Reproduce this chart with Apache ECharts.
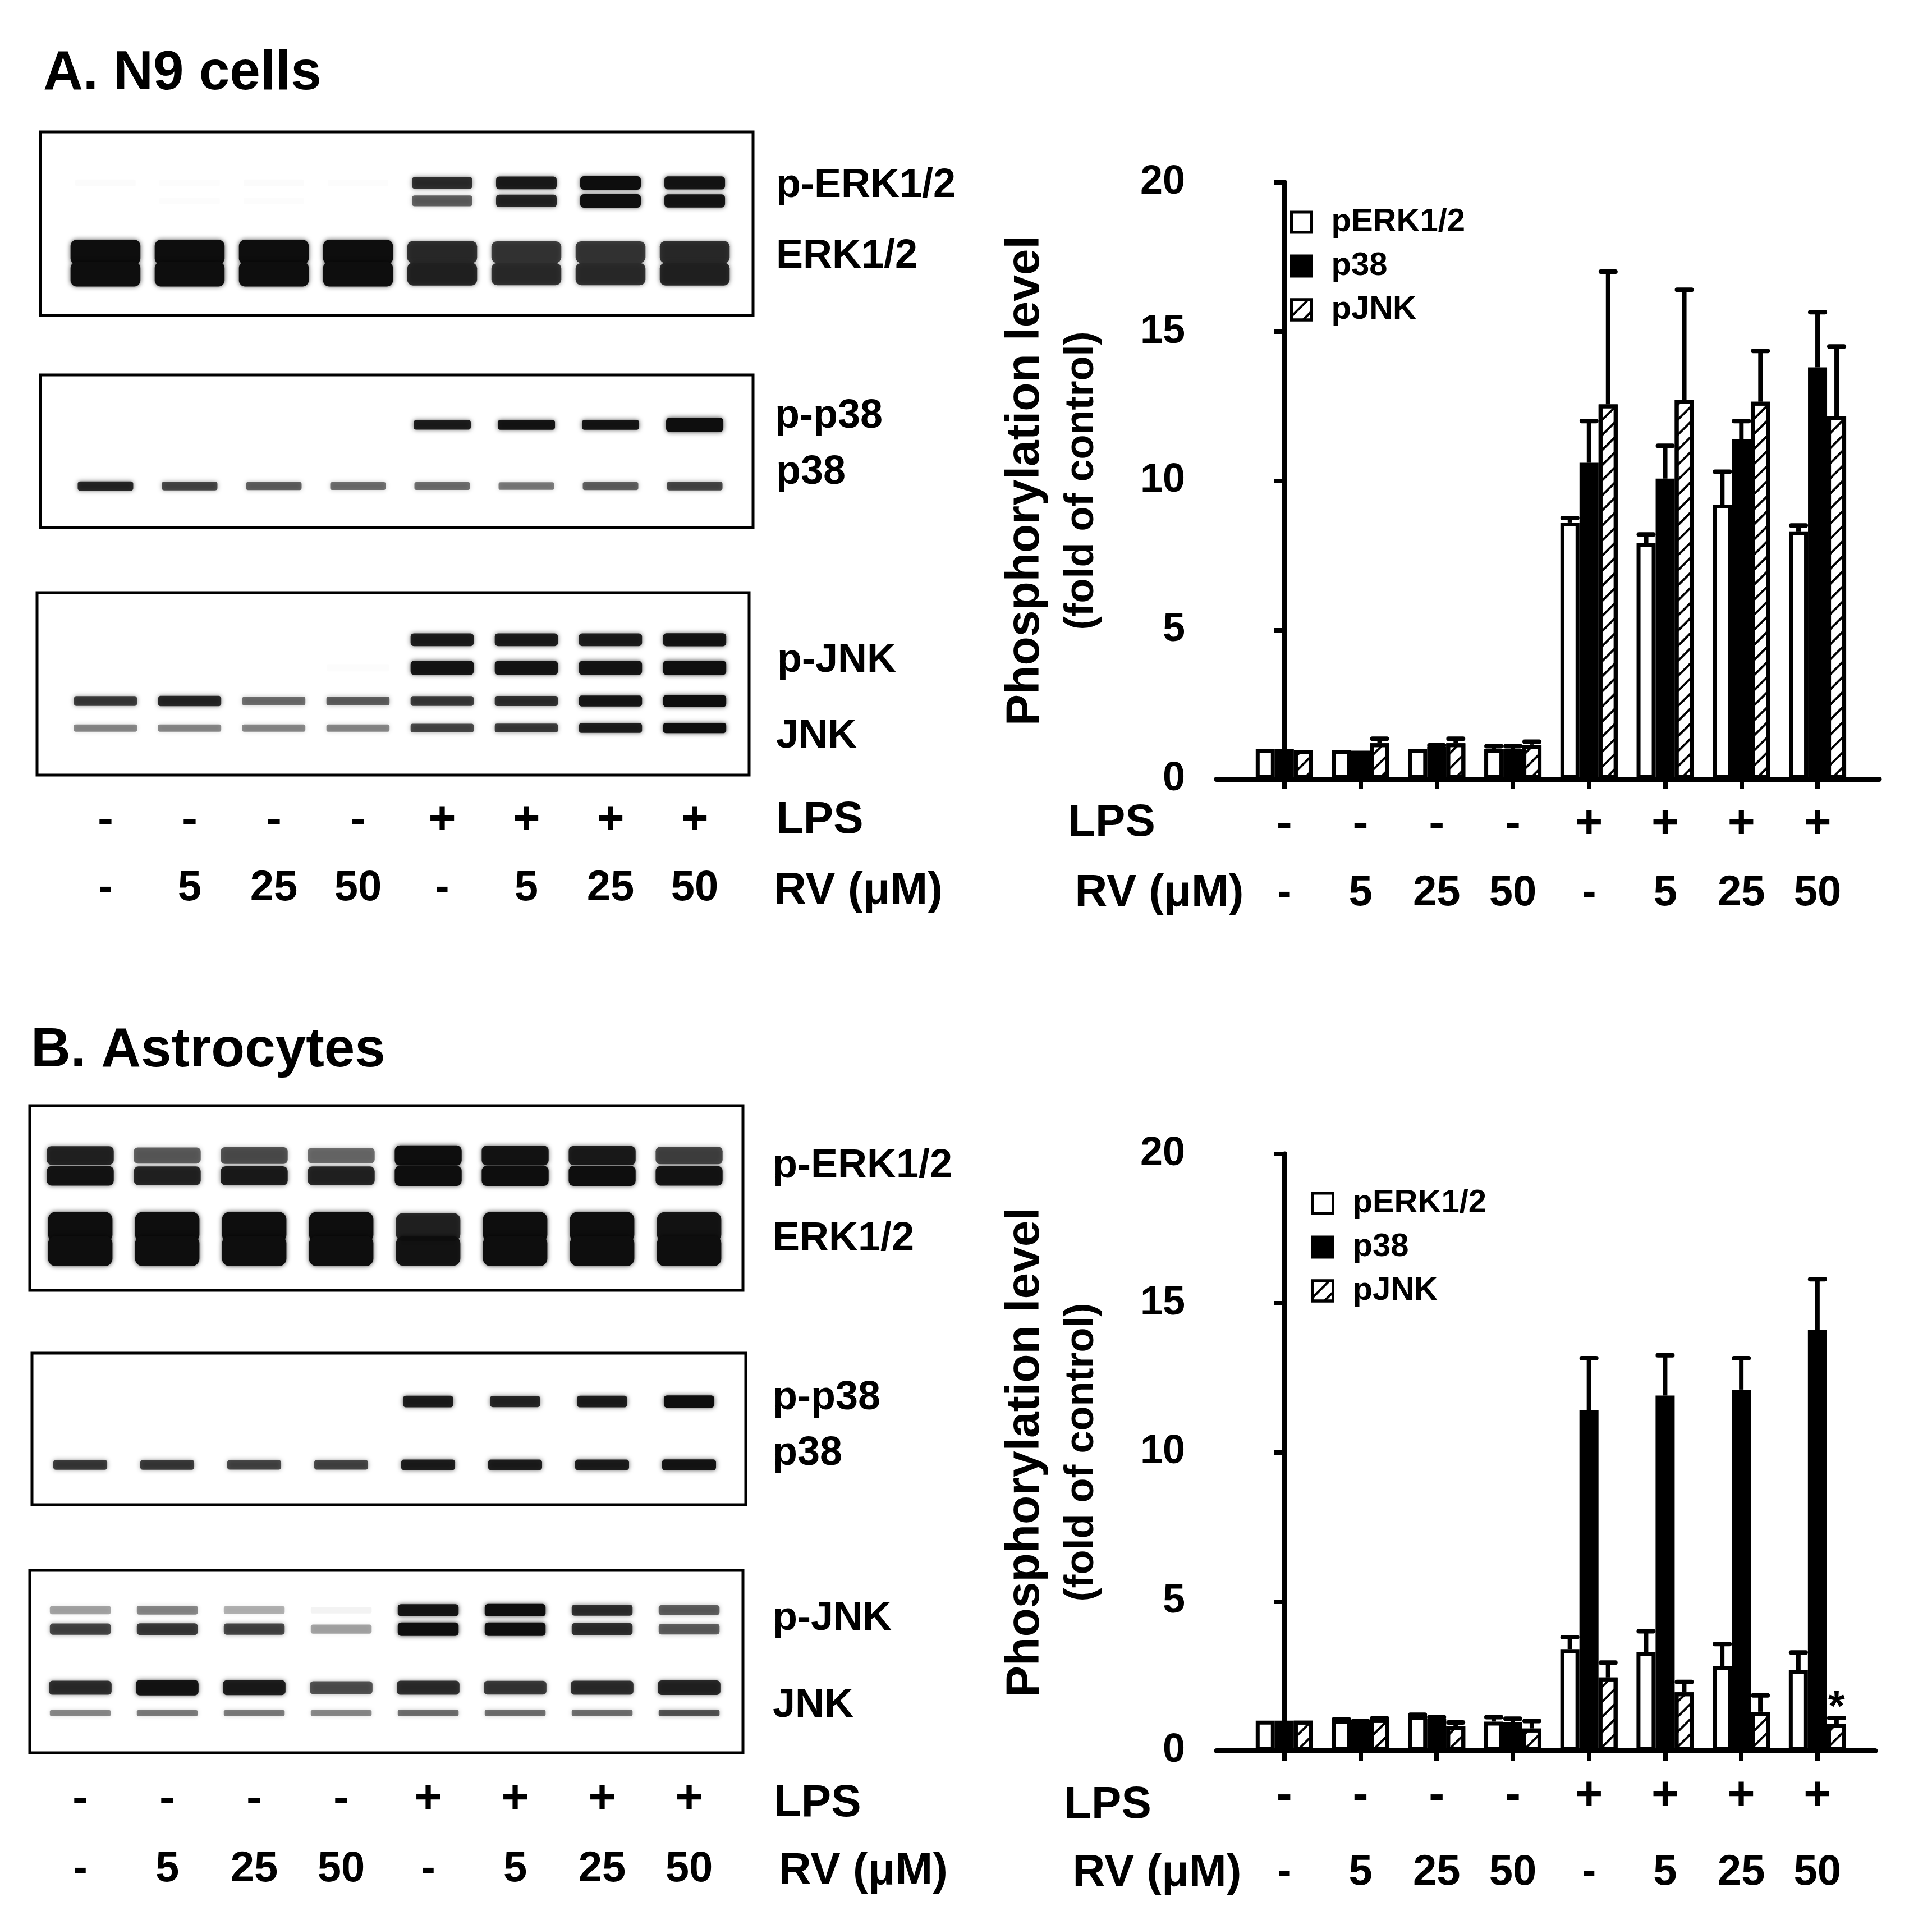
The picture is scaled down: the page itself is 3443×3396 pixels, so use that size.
<!DOCTYPE html>
<html lang="en">
<head>
    <meta charset="UTF-8">
    <title>MAPK phosphorylation</title>
    <script src="https://cdn.jsdelivr.net/npm/echarts@6/dist/echarts.min.js"></script>
    <style>
        html, body { margin: 0; padding: 0; background: #fff; }
        #main { width: 3443px; height: 3396px; }
    </style>
</head>
<body>
<div id="main"></div>
<script>
    // lane / group labels
    var LPS = ['-', '-', '-', '-', '+', '+', '+', '+'];
    var RV = ['-', '5', '25', '50', '-', '5', '25', '50'];
    var SERIES_NAMES = ['pERK1/2', 'p38', 'pJNK'];

    // A. N9 cells - fold of control (mean, upper error)
    var N9_PERK = [1.0, 0.97, 1.0, 1.0, 8.6, 7.9, 9.2, 8.3];
    var N9_P38 = [1.0, 0.95, 1.08, 1.0, 10.6, 10.07, 11.4, 13.8];
    var N9_PJNK = [0.97, 1.2, 1.2, 1.15, 12.56, 12.7, 12.65, 12.16];
    var N9_PERK_ERR = [0, 0, 0, 0.1, 0.15, 0.3, 1.1, 0.2];
    var N9_P38_ERR = [0, 0, 0.05, 0.1, 1.4, 1.1, 0.6, 1.85];
    var N9_PJNK_ERR = [0, 0.15, 0.15, 0.1, 4.45, 3.7, 1.7, 2.34];

    // B. Astrocytes
    var AS_PERK = [1.0, 1.02, 1.15, 0.97, 3.4, 3.3, 2.82, 2.69];
    var AS_P38 = [1.0, 0.97, 1.07, 0.95, 11.4, 11.9, 12.1, 14.1];
    var AS_PJNK = [1.0, 1.06, 0.82, 0.74, 2.45, 1.95, 1.3, 0.89];
    var AS_PERK_ERR = [0, 0.03, 0.05, 0.15, 0.4, 0.7, 0.75, 0.6];
    var AS_P38_ERR = [0, 0.02, 0.05, 0.12, 1.75, 1.35, 1.05, 1.7];
    var AS_PJNK_ERR = [0, 0.02, 0.12, 0.25, 0.5, 0.35, 0.55, 0.2];
    var AS_SIGNIF = [7]; // '*' over pJNK

    // blot band intensities (0 = none, 1 = saturated), one array per band row
    var N9_ERK_BLOT = [
        [0.015, 0.01, 0.015, 0.01, 0.8, 0.9, 1.0, 0.95],  // p-ERK1
        [0, 0.01, 0.01, 0, 0.6, 0.85, 1.0, 0.95],         // p-ERK2
        [1, 1, 1, 1, 0.8, 0.75, 0.75, 0.8],               // ERK1
        [1, 1, 1, 1, 0.85, 0.8, 0.8, 0.85]                // ERK2
    ];
    var N9_P38_BLOT = [
        [0, 0, 0, 0, 0.9, 0.95, 0.95, 1.9],
        [0.85, 0.7, 0.6, 0.55, 0.55, 0.5, 0.6, 0.7]
    ];
    var N9_JNK_BLOT = [
        [0, 0, 0, 0, 0.9, 0.9, 0.9, 0.95],
        [0, 0, 0, 0.01, 0.95, 0.95, 0.95, 1.0],
        [0.75, 0.85, 0.55, 0.6, 0.75, 0.8, 0.95, 1.1],
        [0.45, 0.45, 0.45, 0.45, 0.7, 0.75, 0.9, 1.0]
    ];
    var AS_ERK_BLOT = [
        [0.85, 0.6, 0.65, 0.55, 1.0, 0.95, 0.9, 0.7],
        [0.95, 0.85, 0.9, 0.85, 1.0, 1.0, 1.0, 0.95],
        [1, 1, 1, 1, 0.85, 1, 1, 0.95],
        [1, 1, 1, 1, 0.95, 1, 1, 1]
    ];
    var AS_P38_BLOT = [
        [0, 0, 0, 0, 0.9, 0.85, 0.9, 1.0],
        [0.75, 0.75, 0.7, 0.7, 0.9, 0.9, 0.9, 0.95]
    ];
    var AS_JNK_BLOT = [
        [0.35, 0.45, 0.3, 0.05, 0.95, 1.0, 0.8, 0.6],
        [0.7, 0.75, 0.7, 0.35, 1.0, 1.0, 0.8, 0.6],
        [0.8, 0.95, 0.9, 0.65, 0.8, 0.75, 0.8, 0.85],
        [0.45, 0.5, 0.5, 0.45, 0.55, 0.55, 0.55, 0.65]
    ];

    var FONT = '"Liberation Sans", Arial, Helvetica, sans-serif';
    var LANES = [0, 1, 2, 3, 4, 5, 6, 7];
    var BAR_W = 34;

    // band layout per blot: row position (fraction of box height), thickness, width (fraction of lane step)
    var BLOT_LAYOUT = [
        { rows: [0.278, 0.376, 0.655, 0.775], h: [24, 24, 44, 44], w: [0.72, 0.72, 0.83, 0.83] },
        { rows: [0.327, 0.728], h: [18, 18], w: [0.68, 0.66] },
        { rows: [0.258, 0.412, 0.594, 0.742], h: [24, 26, 20, 18], w: [0.75, 0.75, 0.75, 0.75] },
        { rows: [0.27, 0.38, 0.657, 0.787], h: [36, 36, 54, 54], w: [0.77, 0.77, 0.74, 0.74] },
        { rows: [0.319, 0.737], h: [22, 20], w: [0.58, 0.62] },
        { rows: [0.218, 0.322, 0.643, 0.782], h: [22, 24, 28, 14], w: [0.7, 0.7, 0.72, 0.7] }
    ];
    var BLOTS = [N9_ERK_BLOT, N9_P38_BLOT, N9_JNK_BLOT, AS_ERK_BLOT, AS_P38_BLOT, AS_JNK_BLOT];

    var chart = echarts.init(document.getElementById('main'), null, { renderer: 'canvas' });

    function blotData(rows) {
        var out = [];
        rows.forEach(function (row, r) {
            row.forEach(function (v, i) { out.push([i, r, v]); });
        });
        return out;
    }

    function bandRenderer(cfg) {
        return function (params, api) {
            var lane = api.value(0), r = api.value(1), v = api.value(2);
            if (!(v > 0)) return null;
            var c = api.coord([lane, cfg.rows[r]]);
            var step = api.size([1, 0])[0];
            var w = step * cfg.w[r];
            var h = cfg.h[r] * (0.5 + 0.5 * v);
            var a = Math.min(1, v);
            return {
                type: 'rect',
                shape: { x: c[0] - w / 2, y: c[1] - h / 2, width: w, height: h, r: h / 4 },
                style: {
                    fill: 'rgba(14,14,14,' + a + ')',
                    shadowBlur: 9,
                    shadowColor: 'rgba(0,0,0,' + (a * 0.7) + ')'
                }
            };
        };
    }

    function errData(means, errs) {
        var out = [];
        means.forEach(function (list, k) {
            list.forEach(function (m, i) { out.push([i, m, errs[k][i], k]); });
        });
        return out;
    }

    function renderErr(params, api) {
        var x = api.value(0), m = api.value(1), e = api.value(2), k = api.value(3);
        if (!(e > 0)) return null;
        var p0 = api.coord([x, m]);
        var p1 = api.coord([x, m + e]);
        var cx = p0[0] + (k - 1) * BAR_W;
        return {
            type: 'group',
            children: [
                { type: 'line', shape: { x1: cx, y1: p0[1], x2: cx, y2: p1[1] }, style: { stroke: '#000', lineWidth: 8 } },
                { type: 'line', shape: { x1: cx - 13, y1: p1[1], x2: cx + 13, y2: p1[1] }, style: { stroke: '#000', lineWidth: 8, lineCap: 'round' } }
            ]
        };
    }

    var labelFont = { fontFamily: FONT, fontWeight: 'bold', color: '#000' };

    function hiddenX(grid, min, max) {
        return { type: 'value', gridIndex: grid, min: min, max: max, show: false };
    }

    function labelX(grid, min, max, list, margin, size) {
        return {
            type: 'value', gridIndex: grid, position: 'bottom', min: min, max: max,
            axisLine: { show: false }, axisTick: { show: false }, splitLine: { show: false },
            axisLabel: Object.assign({
                customValues: LANES, margin: margin, fontSize: size,
                formatter: function (v) { return list[Math.round(v)]; }
            }, labelFont)
        };
    }

    function barX(grid, min, max) {
        return {
            type: 'value', gridIndex: grid, position: 'bottom', min: min, max: max,
            axisLine: { show: true, lineStyle: { color: '#000', width: 9 } },
            axisTick: { show: true, customValues: LANES, length: 18, lineStyle: { color: '#000', width: 8 } },
            splitLine: { show: false },
            axisLabel: Object.assign({
                customValues: LANES, margin: 40, fontSize: 84,
                formatter: function (v) { return LPS[Math.round(v)]; }
            }, labelFont)
        };
    }

    function barY(grid) {
        return {
            type: 'value', gridIndex: grid, min: 0, max: 20, interval: 5,
            axisLine: { show: true, lineStyle: { color: '#000', width: 9 } },
            axisTick: { show: true, length: 18, lineStyle: { color: '#000', width: 8 } },
            splitLine: { show: false },
            axisLabel: Object.assign({ margin: 56, fontSize: 72 }, labelFont),
            name: '{a|Phosphorylation level}\n{b|(fold of control)}',
            nameLocation: 'middle',
            nameRotate: 90,
            nameGap: 190,
            nameTextStyle: {
                rich: {
                    a: { fontFamily: FONT, fontWeight: 'bold', fontSize: 84, lineHeight: 100, color: '#000' },
                    b: { fontFamily: FONT, fontWeight: 'bold', fontSize: 72, lineHeight: 100, color: '#000' }
                }
            }
        };
    }

    var hatch = {
        symbol: 'rect', symbolSize: 1, color: '#000',
        dashArrayX: [1, 0], dashArrayY: [4, 15], rotation: -Math.PI / 4
    };
    var barStyles = [
        { color: '#fff', borderColor: '#000', borderWidth: 7 },
        { color: '#000', borderColor: '#000', borderWidth: 7 },
        { color: '#fff', borderColor: '#000', borderWidth: 7, decal: hatch }
    ];

    function barSeries(xi, yi, lists, signif) {
        return lists.map(function (list, k) {
            return {
                name: SERIES_NAMES[k], type: 'bar', xAxisIndex: xi, yAxisIndex: yi,
                barWidth: BAR_W, barGap: '0%', itemStyle: barStyles[k], z: 3,
                data: list.map(function (v, i) {
                    if (k === 2 && signif && signif.indexOf(i) >= 0) {
                        return {
                            value: [i, v],
                            label: { show: true, position: 'top', distance: -10, formatter: '*', fontSize: 76, fontWeight: 'bold', fontFamily: FONT, color: '#000' }
                        };
                    }
                    return [i, v];
                })
            };
        });
    }

    function legendAt(left, top) {
        return {
            data: SERIES_NAMES, orient: 'vertical', left: left, top: top,
            icon: 'rect', itemWidth: 36, itemHeight: 36, itemGap: 20,
            selectedMode: false,
            itemStyle: { borderWidth: 5, borderColor: '#000' },
            textStyle: { fontFamily: FONT, fontWeight: 'bold', fontSize: 58, lineHeight: 56, color: '#000', padding: [0, 0, 0, 30] }
        };
    }

    function text(str, x, y, size, align) {
        return {
            type: 'text', x: x, y: y, silent: true,
            style: {
                text: str, font: 'bold ' + size + 'px ' + FONT, fill: '#000',
                textAlign: align || 'left', textVerticalAlign: 'middle',
                align: align || 'left', verticalAlign: 'middle'
            }
        };
    }

    var blotGrid = { show: true, backgroundColor: '#fff', borderColor: '#000', borderWidth: 5 };

    var option = {
        animation: false,
        backgroundColor: '#fff',
        grid: [
            Object.assign({ left: 72, top: 235, width: 1270, height: 327 }, blotGrid),
            Object.assign({ left: 72, top: 668, width: 1270, height: 272 }, blotGrid),
            Object.assign({ left: 66, top: 1056, width: 1269, height: 325 }, blotGrid),
            Object.assign({ left: 53, top: 1970, width: 1271, height: 329 }, blotGrid),
            Object.assign({ left: 57, top: 2411, width: 1272, height: 270 }, blotGrid),
            Object.assign({ left: 53, top: 2798, width: 1271, height: 325 }, blotGrid),
            { left: 2168, top: 325, width: 1181, height: 1063 },
            { left: 2168, top: 2056, width: 1174, height: 1063 }
        ],
        xAxis: [
            hiddenX(0, -0.773, 7.693),
            hiddenX(1, -0.773, 7.693),
            labelX(2, -0.813, 7.647, LPS, 40, 84),
            labelX(2, -0.813, 7.647, RV, 164, 76),
            hiddenX(3, -0.581, 7.619),
            hiddenX(4, -0.555, 7.652),
            labelX(5, -0.581, 7.619, LPS, 42, 84),
            labelX(5, -0.581, 7.619, RV, 170, 76),
            barX(6, -0.89, 7.81),
            labelX(6, -0.89, 7.81, RV, 166, 76),
            barX(7, -0.89, 7.76),
            labelX(7, -0.89, 7.76, RV, 180, 76)
        ],
        yAxis: [0, 1, 2, 3, 4, 5].map(function (g) {
            return { type: 'value', gridIndex: g, min: 0, max: 1, inverse: true, show: false };
        }).concat([barY(6), barY(7)]),
        legend: [legendAt(2294, 362), legendAt(2332, 2110)],
        series: BLOTS.map(function (rows, b) {
            return {
                type: 'custom', xAxisIndex: [0, 1, 2, 4, 5, 6][b], yAxisIndex: b,
                renderItem: bandRenderer(BLOT_LAYOUT[b]), data: blotData(rows), silent: true, z: 2
            };
        }).concat(
            barSeries(8, 6, [N9_PERK, N9_P38, N9_PJNK]),
            [{
                type: 'custom', xAxisIndex: 8, yAxisIndex: 6, renderItem: renderErr, z: 5, silent: true,
                data: errData([N9_PERK, N9_P38, N9_PJNK], [N9_PERK_ERR, N9_P38_ERR, N9_PJNK_ERR])
            }],
            barSeries(10, 7, [AS_PERK, AS_P38, AS_PJNK], AS_SIGNIF),
            [{
                type: 'custom', xAxisIndex: 10, yAxisIndex: 7, renderItem: renderErr, z: 5, silent: true,
                data: errData([AS_PERK, AS_P38, AS_PJNK], [AS_PERK_ERR, AS_P38_ERR, AS_PJNK_ERR])
            }]
        ),
        graphic: [
            text('A. N9 cells', 77, 132, 98),
            text('B. Astrocytes', 55, 1873, 98),
            // blot row labels, panel A
            text('p-ERK1/2', 1383, 331, 72),
            text('ERK1/2', 1383, 457, 72),
            text('p-p38', 1381, 742, 72),
            text('p38', 1383, 842, 72),
            text('p-JNK', 1385, 1177, 72),
            text('JNK', 1383, 1312, 72),
            text('LPS', 1383, 1462, 80),
            text('RV (μM)', 1379, 1588, 80),
            // panel B
            text('p-ERK1/2', 1377, 2078, 72),
            text('ERK1/2', 1377, 2208, 72),
            text('p-p38', 1377, 2491, 72),
            text('p38', 1377, 2590, 72),
            text('p-JNK', 1377, 2884, 72),
            text('JNK', 1377, 3039, 72),
            text('LPS', 1379, 3214, 80),
            text('RV (μM)', 1388, 3335, 80),
            // bar chart row headers
            text('LPS', 1981, 1467, 80, 'center'),
            text('RV (μM)', 2066, 1592, 80, 'center'),
            text('LPS', 1974, 3217, 80, 'center'),
            text('RV (μM)', 2062, 3338, 80, 'center')
        ]
    };

    chart.setOption(option);
</script>
</body>
</html>
